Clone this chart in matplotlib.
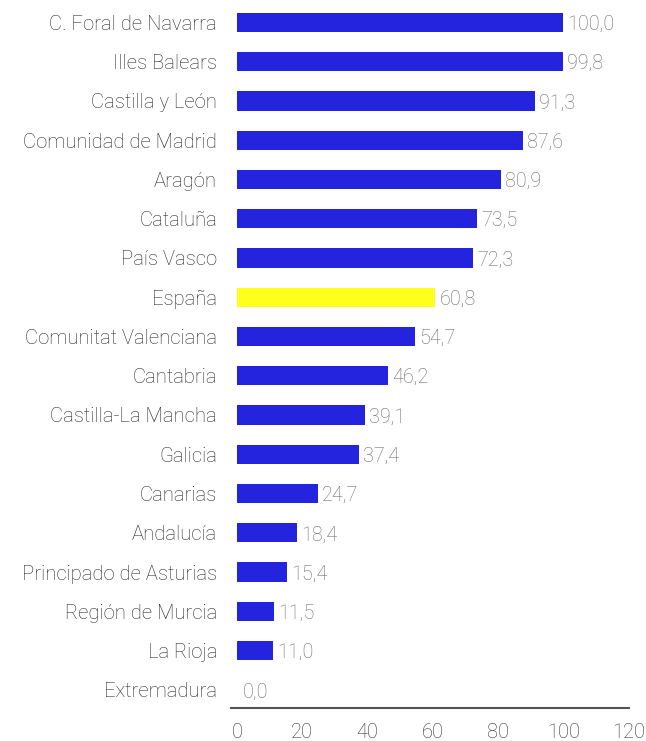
import matplotlib
matplotlib.use("Agg")
import matplotlib.pyplot as plt
from matplotlib.ticker import FixedLocator

categories = ["C. Foral de Navarra", "Illes Balears", "Castilla y León", "Comunidad de Madrid",
              "Aragón", "Cataluña", "País Vasco", "España", "Comunitat Valenciana", "Cantabria",
              "Castilla-La Mancha", "Galicia", "Canarias", "Andalucía", "Principado de Asturias",
              "Región de Murcia", "La Rioja", "Extremadura"]
values = [100.0, 99.8, 91.3, 87.6, 80.9, 73.5, 72.3, 60.8, 54.7, 46.2, 39.1, 37.4, 24.7,
          18.4, 15.4, 11.5, 11.0, 0.0]
highlight = "España"
x_ticks = [0, 20, 40, 60, 80, 100, 120]

plt.rcParams['font.family'] = ['Roboto', 'DejaVu Sans']
plt.rcParams['font.weight'] = 'light'

BLUE = "#2424DE"
YELLOW = "#FFFF1C"

fig = plt.figure(figsize=(6.46, 7.41), dpi=100)
ax = fig.add_axes([231/646, 33.5/741, (629-231)/646, 707.5/741])

ypos = list(range(len(categories)))
colors = [YELLOW if c == highlight else BLUE for c in categories]
ax.barh(ypos, values, height=0.49, color=colors, zorder=2)

for y, v in zip(ypos, values):
    ax.annotate(f"{v:.1f}".replace(".", ","), xy=(v, y), xytext=(3 if v > 0 else 4.5, -1.5),
                textcoords="offset points", ha="left", va="center",
                fontsize=14.2, color="#6a6a6a", fontweight='light')

ax.set_ylim(17.45, -0.57)
ax.set_xlim(-1.8, 120.1)
ax.set_yticks(ypos)
ax.set_yticklabels(categories, fontsize=14.6, color="#2a2a2a", fontweight='light')
ax.xaxis.set_major_locator(FixedLocator(x_ticks))
ax.set_xticklabels([str(t) for t in x_ticks], fontsize=14.4, color="#333333", fontweight='light')
ax.tick_params(axis='y', length=0, pad=10)
ax.tick_params(axis='x', length=0, pad=11)

for s in ["top", "right", "left"]:
    ax.spines[s].set_visible(False)
ax.spines["bottom"].set_color("#555555")
ax.spines["bottom"].set_linewidth(1.5)

fig.savefig("out.png", dpi=100)
